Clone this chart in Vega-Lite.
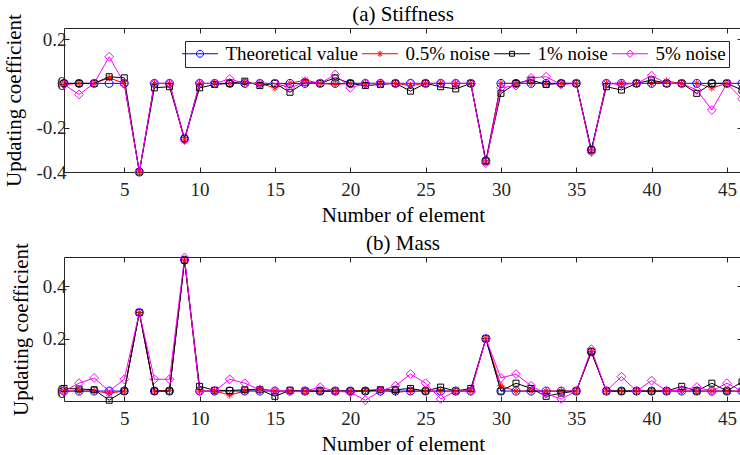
{
  "$schema": "https://vega.github.io/schema/vega-lite/v6.json",
  "padding": {"left": 3, "right": 1, "top": 3, "bottom": 2},
  "spacing": 6,
  "config": {
    "view": {"stroke": "#262626", "strokeWidth": 1},
    "font": "Liberation Serif",
    "axis": {"grid": false, "domain": false, "tickColor": "#262626", "tickSize": -5, "tickWidth": 1, "labelFont": "Liberation Serif", "labelFontSize": 19, "labelColor": "#262626", "titleFont": "Liberation Serif", "titleFontSize": 21, "titleFontWeight": "normal", "titleColor": "#000000"},
    "title": {"font": "Liberation Serif", "fontSize": 21, "fontWeight": "normal", "color": "#000000", "offset": -11, "anchor": "middle", "frame": "group"},
    "scale": {"zero": false}
  },
  "resolve": {"scale": {"color": "independent", "shape": "independent"}, "legend": {"color": "independent", "shape": "independent"}},
  "datasets": {
    "stiff": [
      {"e":1,"s":"Theoretical value","v":0},{"e":2,"s":"Theoretical value","v":0},{"e":3,"s":"Theoretical value","v":0},{"e":4,"s":"Theoretical value","v":0},{"e":5,"s":"Theoretical value","v":0},{"e":6,"s":"Theoretical value","v":-0.4},{"e":7,"s":"Theoretical value","v":0},{"e":8,"s":"Theoretical value","v":0},{"e":9,"s":"Theoretical value","v":-0.25},{"e":10,"s":"Theoretical value","v":0},
      {"e":11,"s":"Theoretical value","v":0},{"e":12,"s":"Theoretical value","v":0},{"e":13,"s":"Theoretical value","v":0},{"e":14,"s":"Theoretical value","v":0},{"e":15,"s":"Theoretical value","v":0},{"e":16,"s":"Theoretical value","v":0},{"e":17,"s":"Theoretical value","v":0},{"e":18,"s":"Theoretical value","v":0},{"e":19,"s":"Theoretical value","v":0},{"e":20,"s":"Theoretical value","v":0},
      {"e":21,"s":"Theoretical value","v":0},{"e":22,"s":"Theoretical value","v":0},{"e":23,"s":"Theoretical value","v":0},{"e":24,"s":"Theoretical value","v":0},{"e":25,"s":"Theoretical value","v":0},{"e":26,"s":"Theoretical value","v":0},{"e":27,"s":"Theoretical value","v":0},{"e":28,"s":"Theoretical value","v":0},{"e":29,"s":"Theoretical value","v":-0.35},{"e":30,"s":"Theoretical value","v":0},
      {"e":31,"s":"Theoretical value","v":0},{"e":32,"s":"Theoretical value","v":0},{"e":33,"s":"Theoretical value","v":0},{"e":34,"s":"Theoretical value","v":0},{"e":35,"s":"Theoretical value","v":0},{"e":36,"s":"Theoretical value","v":-0.3},{"e":37,"s":"Theoretical value","v":0},{"e":38,"s":"Theoretical value","v":0},{"e":39,"s":"Theoretical value","v":0},{"e":40,"s":"Theoretical value","v":0},
      {"e":41,"s":"Theoretical value","v":0},{"e":42,"s":"Theoretical value","v":0},{"e":43,"s":"Theoretical value","v":0},{"e":44,"s":"Theoretical value","v":0},{"e":45,"s":"Theoretical value","v":0},{"e":46,"s":"Theoretical value","v":0},
      {"e":1,"s":"0.5% noise","v":-0.005},{"e":2,"s":"0.5% noise","v":0},{"e":3,"s":"0.5% noise","v":0},{"e":4,"s":"0.5% noise","v":0.025},{"e":5,"s":"0.5% noise","v":0},{"e":6,"s":"0.5% noise","v":-0.4},{"e":7,"s":"0.5% noise","v":0},{"e":8,"s":"0.5% noise","v":0},{"e":9,"s":"0.5% noise","v":-0.26},{"e":10,"s":"0.5% noise","v":0},
      {"e":11,"s":"0.5% noise","v":0},{"e":12,"s":"0.5% noise","v":0},{"e":13,"s":"0.5% noise","v":0},{"e":14,"s":"0.5% noise","v":0},{"e":15,"s":"0.5% noise","v":-0.02},{"e":16,"s":"0.5% noise","v":0},{"e":17,"s":"0.5% noise","v":0.015},{"e":18,"s":"0.5% noise","v":0},{"e":19,"s":"0.5% noise","v":-0.005},{"e":20,"s":"0.5% noise","v":0},
      {"e":21,"s":"0.5% noise","v":0},{"e":22,"s":"0.5% noise","v":0},{"e":23,"s":"0.5% noise","v":0},{"e":24,"s":"0.5% noise","v":-0.01},{"e":25,"s":"0.5% noise","v":0},{"e":26,"s":"0.5% noise","v":0},{"e":27,"s":"0.5% noise","v":0},{"e":28,"s":"0.5% noise","v":0},{"e":29,"s":"0.5% noise","v":-0.355},{"e":30,"s":"0.5% noise","v":0},
      {"e":31,"s":"0.5% noise","v":0},{"e":32,"s":"0.5% noise","v":0},{"e":33,"s":"0.5% noise","v":0},{"e":34,"s":"0.5% noise","v":0},{"e":35,"s":"0.5% noise","v":0},{"e":36,"s":"0.5% noise","v":-0.31},{"e":37,"s":"0.5% noise","v":0},{"e":38,"s":"0.5% noise","v":0},{"e":39,"s":"0.5% noise","v":0},{"e":40,"s":"0.5% noise","v":0},
      {"e":41,"s":"0.5% noise","v":0.01},{"e":42,"s":"0.5% noise","v":0},{"e":43,"s":"0.5% noise","v":0},{"e":44,"s":"0.5% noise","v":-0.02},{"e":45,"s":"0.5% noise","v":0},{"e":46,"s":"0.5% noise","v":0},
      {"e":1,"s":"1% noise","v":0},{"e":2,"s":"1% noise","v":0},{"e":3,"s":"1% noise","v":0},{"e":4,"s":"1% noise","v":0.03},{"e":5,"s":"1% noise","v":0.025},{"e":6,"s":"1% noise","v":-0.4},{"e":7,"s":"1% noise","v":-0.02},{"e":8,"s":"1% noise","v":-0.015},{"e":9,"s":"1% noise","v":-0.25},{"e":10,"s":"1% noise","v":-0.02},
      {"e":11,"s":"1% noise","v":-0.005},{"e":12,"s":"1% noise","v":0},{"e":13,"s":"1% noise","v":0.01},{"e":14,"s":"1% noise","v":-0.01},{"e":15,"s":"1% noise","v":0},{"e":16,"s":"1% noise","v":-0.04},{"e":17,"s":"1% noise","v":0.005},{"e":18,"s":"1% noise","v":0},{"e":19,"s":"1% noise","v":0.025},{"e":20,"s":"1% noise","v":0},
      {"e":21,"s":"1% noise","v":-0.01},{"e":22,"s":"1% noise","v":-0.005},{"e":23,"s":"1% noise","v":0},{"e":24,"s":"1% noise","v":-0.035},{"e":25,"s":"1% noise","v":0},{"e":26,"s":"1% noise","v":-0.015},{"e":27,"s":"1% noise","v":-0.025},{"e":28,"s":"1% noise","v":0},{"e":29,"s":"1% noise","v":-0.35},{"e":30,"s":"1% noise","v":-0.045},
      {"e":31,"s":"1% noise","v":0},{"e":32,"s":"1% noise","v":0.015},{"e":33,"s":"1% noise","v":-0.005},{"e":34,"s":"1% noise","v":0},{"e":35,"s":"1% noise","v":0},{"e":36,"s":"1% noise","v":-0.3},{"e":37,"s":"1% noise","v":-0.015},{"e":38,"s":"1% noise","v":-0.03},{"e":39,"s":"1% noise","v":0},{"e":40,"s":"1% noise","v":0.015},
      {"e":41,"s":"1% noise","v":0},{"e":42,"s":"1% noise","v":0},{"e":43,"s":"1% noise","v":-0.045},{"e":44,"s":"1% noise","v":0},{"e":45,"s":"1% noise","v":0},{"e":46,"s":"1% noise","v":-0.03},
      {"e":1,"s":"5% noise","v":-0.005},{"e":2,"s":"5% noise","v":-0.05},{"e":3,"s":"5% noise","v":0},{"e":4,"s":"5% noise","v":0.12},{"e":5,"s":"5% noise","v":0},{"e":6,"s":"5% noise","v":-0.4},{"e":7,"s":"5% noise","v":0},{"e":8,"s":"5% noise","v":0},{"e":9,"s":"5% noise","v":-0.255},{"e":10,"s":"5% noise","v":0},
      {"e":11,"s":"5% noise","v":0},{"e":12,"s":"5% noise","v":0.02},{"e":13,"s":"5% noise","v":0},{"e":14,"s":"5% noise","v":0},{"e":15,"s":"5% noise","v":0},{"e":16,"s":"5% noise","v":-0.02},{"e":17,"s":"5% noise","v":0.005},{"e":18,"s":"5% noise","v":0},{"e":19,"s":"5% noise","v":0.04},{"e":20,"s":"5% noise","v":-0.02},
      {"e":21,"s":"5% noise","v":0},{"e":22,"s":"5% noise","v":0},{"e":23,"s":"5% noise","v":0},{"e":24,"s":"5% noise","v":0},{"e":25,"s":"5% noise","v":0},{"e":26,"s":"5% noise","v":0},{"e":27,"s":"5% noise","v":0},{"e":28,"s":"5% noise","v":0},{"e":29,"s":"5% noise","v":-0.36},{"e":30,"s":"5% noise","v":-0.02},
      {"e":31,"s":"5% noise","v":-0.01},{"e":32,"s":"5% noise","v":0.025},{"e":33,"s":"5% noise","v":0.03},{"e":34,"s":"5% noise","v":-0.005},{"e":35,"s":"5% noise","v":0},{"e":36,"s":"5% noise","v":-0.31},{"e":37,"s":"5% noise","v":0},{"e":38,"s":"5% noise","v":-0.005},{"e":39,"s":"5% noise","v":0},{"e":40,"s":"5% noise","v":0.035},
      {"e":41,"s":"5% noise","v":0},{"e":42,"s":"5% noise","v":0},{"e":43,"s":"5% noise","v":-0.03},{"e":44,"s":"5% noise","v":-0.12},{"e":45,"s":"5% noise","v":0},{"e":46,"s":"5% noise","v":-0.07}
    ],
    "mass": [
      {"e":1,"s":"Theoretical value","v":0},{"e":2,"s":"Theoretical value","v":0},{"e":3,"s":"Theoretical value","v":0},{"e":4,"s":"Theoretical value","v":0},{"e":5,"s":"Theoretical value","v":0},{"e":6,"s":"Theoretical value","v":0.3},{"e":7,"s":"Theoretical value","v":0},{"e":8,"s":"Theoretical value","v":0},{"e":9,"s":"Theoretical value","v":0.5},{"e":10,"s":"Theoretical value","v":0},
      {"e":11,"s":"Theoretical value","v":0},{"e":12,"s":"Theoretical value","v":0},{"e":13,"s":"Theoretical value","v":0},{"e":14,"s":"Theoretical value","v":0},{"e":15,"s":"Theoretical value","v":0},{"e":16,"s":"Theoretical value","v":0},{"e":17,"s":"Theoretical value","v":0},{"e":18,"s":"Theoretical value","v":0},{"e":19,"s":"Theoretical value","v":0},{"e":20,"s":"Theoretical value","v":0},
      {"e":21,"s":"Theoretical value","v":0},{"e":22,"s":"Theoretical value","v":0},{"e":23,"s":"Theoretical value","v":0},{"e":24,"s":"Theoretical value","v":0},{"e":25,"s":"Theoretical value","v":0},{"e":26,"s":"Theoretical value","v":0},{"e":27,"s":"Theoretical value","v":0},{"e":28,"s":"Theoretical value","v":0},{"e":29,"s":"Theoretical value","v":0.2},{"e":30,"s":"Theoretical value","v":0},
      {"e":31,"s":"Theoretical value","v":0},{"e":32,"s":"Theoretical value","v":0},{"e":33,"s":"Theoretical value","v":0},{"e":34,"s":"Theoretical value","v":0},{"e":35,"s":"Theoretical value","v":0},{"e":36,"s":"Theoretical value","v":0.15},{"e":37,"s":"Theoretical value","v":0},{"e":38,"s":"Theoretical value","v":0},{"e":39,"s":"Theoretical value","v":0},{"e":40,"s":"Theoretical value","v":0},
      {"e":41,"s":"Theoretical value","v":0},{"e":42,"s":"Theoretical value","v":0},{"e":43,"s":"Theoretical value","v":0},{"e":44,"s":"Theoretical value","v":0},{"e":45,"s":"Theoretical value","v":0},{"e":46,"s":"Theoretical value","v":0},
      {"e":1,"s":"0.5% noise","v":0},{"e":2,"s":"0.5% noise","v":0},{"e":3,"s":"0.5% noise","v":0},{"e":4,"s":"0.5% noise","v":-0.008},{"e":5,"s":"0.5% noise","v":0},{"e":6,"s":"0.5% noise","v":0.3},{"e":7,"s":"0.5% noise","v":0},{"e":8,"s":"0.5% noise","v":0.003},{"e":9,"s":"0.5% noise","v":0.5},{"e":10,"s":"0.5% noise","v":0},
      {"e":11,"s":"0.5% noise","v":0},{"e":12,"s":"0.5% noise","v":-0.015},{"e":13,"s":"0.5% noise","v":0},{"e":14,"s":"0.5% noise","v":0.01},{"e":15,"s":"0.5% noise","v":0},{"e":16,"s":"0.5% noise","v":0},{"e":17,"s":"0.5% noise","v":0},{"e":18,"s":"0.5% noise","v":0},{"e":19,"s":"0.5% noise","v":0},{"e":20,"s":"0.5% noise","v":0},
      {"e":21,"s":"0.5% noise","v":0.003},{"e":22,"s":"0.5% noise","v":0.005},{"e":23,"s":"0.5% noise","v":-0.005},{"e":24,"s":"0.5% noise","v":0},{"e":25,"s":"0.5% noise","v":0},{"e":26,"s":"0.5% noise","v":0},{"e":27,"s":"0.5% noise","v":0},{"e":28,"s":"0.5% noise","v":0},{"e":29,"s":"0.5% noise","v":0.2},{"e":30,"s":"0.5% noise","v":0.02},
      {"e":31,"s":"0.5% noise","v":0},{"e":32,"s":"0.5% noise","v":0},{"e":33,"s":"0.5% noise","v":0},{"e":34,"s":"0.5% noise","v":0},{"e":35,"s":"0.5% noise","v":0},{"e":36,"s":"0.5% noise","v":0.15},{"e":37,"s":"0.5% noise","v":0},{"e":38,"s":"0.5% noise","v":0},{"e":39,"s":"0.5% noise","v":0},{"e":40,"s":"0.5% noise","v":0},
      {"e":41,"s":"0.5% noise","v":0},{"e":42,"s":"0.5% noise","v":0},{"e":43,"s":"0.5% noise","v":0},{"e":44,"s":"0.5% noise","v":0},{"e":45,"s":"0.5% noise","v":0},{"e":46,"s":"0.5% noise","v":0},
      {"e":1,"s":"1% noise","v":0.01},{"e":2,"s":"1% noise","v":0.008},{"e":3,"s":"1% noise","v":0.005},{"e":4,"s":"1% noise","v":-0.035},{"e":5,"s":"1% noise","v":0},{"e":6,"s":"1% noise","v":0.3},{"e":7,"s":"1% noise","v":0},{"e":8,"s":"1% noise","v":0},{"e":9,"s":"1% noise","v":0.5},{"e":10,"s":"1% noise","v":0.018},
      {"e":11,"s":"1% noise","v":0.003},{"e":12,"s":"1% noise","v":0.002},{"e":13,"s":"1% noise","v":0.005},{"e":14,"s":"1% noise","v":0.005},{"e":15,"s":"1% noise","v":-0.02},{"e":16,"s":"1% noise","v":0.003},{"e":17,"s":"1% noise","v":0},{"e":18,"s":"1% noise","v":0},{"e":19,"s":"1% noise","v":0},{"e":20,"s":"1% noise","v":0},
      {"e":21,"s":"1% noise","v":0},{"e":22,"s":"1% noise","v":0.005},{"e":23,"s":"1% noise","v":0.005},{"e":24,"s":"1% noise","v":0.01},{"e":25,"s":"1% noise","v":0},{"e":26,"s":"1% noise","v":0.015},{"e":27,"s":"1% noise","v":0},{"e":28,"s":"1% noise","v":0.01},{"e":29,"s":"1% noise","v":0.2},{"e":30,"s":"1% noise","v":0},
      {"e":31,"s":"1% noise","v":0.03},{"e":32,"s":"1% noise","v":0.01},{"e":33,"s":"1% noise","v":-0.02},{"e":34,"s":"1% noise","v":-0.008},{"e":35,"s":"1% noise","v":0},{"e":36,"s":"1% noise","v":0.15},{"e":37,"s":"1% noise","v":0},{"e":38,"s":"1% noise","v":0},{"e":39,"s":"1% noise","v":0},{"e":40,"s":"1% noise","v":0},
      {"e":41,"s":"1% noise","v":0},{"e":42,"s":"1% noise","v":0.018},{"e":43,"s":"1% noise","v":0},{"e":44,"s":"1% noise","v":0.03},{"e":45,"s":"1% noise","v":0},{"e":46,"s":"1% noise","v":0.035},
      {"e":1,"s":"5% noise","v":0},{"e":2,"s":"5% noise","v":0.03},{"e":3,"s":"5% noise","v":0.05},{"e":4,"s":"5% noise","v":0},{"e":5,"s":"5% noise","v":0.045},{"e":6,"s":"5% noise","v":0.3},{"e":7,"s":"5% noise","v":0.045},{"e":8,"s":"5% noise","v":0.045},{"e":9,"s":"5% noise","v":0.51},{"e":10,"s":"5% noise","v":0},
      {"e":11,"s":"5% noise","v":0},{"e":12,"s":"5% noise","v":0.045},{"e":13,"s":"5% noise","v":0.03},{"e":14,"s":"5% noise","v":0.005},{"e":15,"s":"5% noise","v":0},{"e":16,"s":"5% noise","v":0},{"e":17,"s":"5% noise","v":0},{"e":18,"s":"5% noise","v":0.015},{"e":19,"s":"5% noise","v":0},{"e":20,"s":"5% noise","v":-0.005},
      {"e":21,"s":"5% noise","v":-0.035},{"e":22,"s":"5% noise","v":0},{"e":23,"s":"5% noise","v":0.02},{"e":24,"s":"5% noise","v":0.065},{"e":25,"s":"5% noise","v":0.03},{"e":26,"s":"5% noise","v":-0.03},{"e":27,"s":"5% noise","v":0},{"e":28,"s":"5% noise","v":0},{"e":29,"s":"5% noise","v":0.2},{"e":30,"s":"5% noise","v":0.05},
      {"e":31,"s":"5% noise","v":0.065},{"e":32,"s":"5% noise","v":0.02},{"e":33,"s":"5% noise","v":-0.01},{"e":34,"s":"5% noise","v":-0.03},{"e":35,"s":"5% noise","v":0},{"e":36,"s":"5% noise","v":0.16},{"e":37,"s":"5% noise","v":0},{"e":38,"s":"5% noise","v":0.055},{"e":39,"s":"5% noise","v":0},{"e":40,"s":"5% noise","v":0.04},
      {"e":41,"s":"5% noise","v":0},{"e":42,"s":"5% noise","v":0.005},{"e":43,"s":"5% noise","v":0.015},{"e":44,"s":"5% noise","v":0},{"e":45,"s":"5% noise","v":0.03},{"e":46,"s":"5% noise","v":0}
    ]
  },
  "vconcat": [
    {
      "width": 678, "height": 144,
      "title": "(a) Stiffness",
      "data": {"name": "stiff"},
      "resolve": {"axis": {"x": "independent", "y": "independent"}},
      "encoding": {
        "x": {"field": "e", "type": "quantitative", "scale": {"domain": [1, 46], "nice": false}, "axis": null},
        "y": {"field": "v", "type": "quantitative", "scale": {"domain": [-0.4, 0.25], "nice": false}, "axis": null},
        "color": {"field": "s", "type": "nominal", "scale": {"domain": ["Theoretical value", "0.5% noise", "1% noise", "5% noise"], "range": ["#0000ff", "#ff0000", "#000000", "#ff00ff"]}}
      },
      "layer": [
        {
          "mark": {"type": "line", "strokeWidth": 1},
          "encoding": {
            "x": {"field": "e", "type": "quantitative", "axis": {"orient": "bottom", "values": [5,10,15,20,25,30,35,40,45], "title": "Number of element", "labelPadding": 13, "titlePadding": 5}},
            "y": {"field": "v", "type": "quantitative", "axis": {"orient": "left", "values": [-0.4,-0.2,0,0.2], "labelExpr": "datum.value < 0 ? '-' + format(-datum.value, '~g') : format(datum.value, '~g')", "title": "Updating coefficient", "labelPadding": 3, "titlePadding": 11}}
          }
        },
        {
          "transform": [{"filter": {"field": "s", "equal": "Theoretical value"}}],
          "mark": {"type": "point", "shape": "M-1,0A1,1,0,1,0,1,0A1,1,0,1,0,-1,0Z", "filled": false, "size": 64, "strokeWidth": 1, "opacity": 1},
          "encoding": {
            "x": {"field": "e", "type": "quantitative", "axis": {"orient": "top", "labels": false, "title": null, "values": [5,10,15,20,25,30,35,40,45]}},
            "y": {"field": "v", "type": "quantitative", "axis": {"orient": "right", "labels": false, "title": null, "values": [-0.4,-0.2,0,0.2]}}
          }
        },
        {
          "transform": [{"filter": {"field": "s", "equal": "0.5% noise"}}],
          "mark": {"type": "point", "shape": "M0,-0.9L0,0.9M-0.9,0L0.9,0M-0.64,-0.64L0.64,0.64M-0.64,0.64L0.64,-0.64", "filled": false, "size": 64, "strokeWidth": 1, "opacity": 1}
        },
        {
          "transform": [{"filter": {"field": "s", "equal": "1% noise"}}],
          "mark": {"type": "point", "shape": "M-0.75,-0.75L0.75,-0.75L0.75,0.75L-0.75,0.75Z", "filled": false, "size": 64, "strokeWidth": 1, "opacity": 1}
        },
        {
          "transform": [{"filter": {"field": "s", "equal": "5% noise"}}],
          "mark": {"type": "point", "shape": "M0,-1.1L1.1,0L0,1.1L-1.1,0Z", "filled": false, "size": 64, "strokeWidth": 1, "opacity": 1}
        },
        {
          "mark": {"type": "point", "filled": false, "size": 49, "strokeWidth": 1, "opacity": 0},
          "encoding": {
            "color": {"field": "s", "type": "nominal", "scale": {"domain": ["Theoretical value", "0.5% noise", "1% noise", "5% noise"], "range": ["#0000ff", "#ff0000", "#000000", "#ff00ff"]},
                      "legend": {"orient": "none", "legendX": 121, "legendY": 13, "direction": "horizontal", "columns": 4, "title": null, "padding": 3, "strokeColor": "#262626", "fillColor": "#ffffff", "symbolOffset": 2.5, "labelOffset": 16, "columnPadding": 1, "symbolSize": 49, "symbolStrokeWidth": 1, "symbolOpacity": 1, "symbolFillColor": "transparent", "labelFont": "Liberation Serif", "labelFontSize": 19, "labelColor": "#000000", "labelLimit": 400}},
            "shape": {"field": "s", "type": "nominal",
                      "scale": {"domain": ["Theoretical value", "0.5% noise", "1% noise", "5% noise"], "range": ["M-5.15,0L5.15,0M-1,0A1,1,0,1,0,1,0A1,1,0,1,0,-1,0Z", "M-5.15,0L5.15,0M0,-0.9L0,0.9M-0.64,-0.64L0.64,0.64M-0.64,0.64L0.64,-0.64", "M-5.15,0L5.15,0M-0.7,-0.7L0.7,-0.7L0.7,0.7L-0.7,0.7Z", "M-5.15,0L5.15,0M0,-1.05L1.05,0L0,1.05L-1.05,0Z"]},
                      "legend": {"orient": "none", "legendX": 121, "legendY": 13, "direction": "horizontal", "columns": 4, "title": null, "padding": 3, "strokeColor": "#262626", "fillColor": "#ffffff", "symbolOffset": 2.5, "labelOffset": 16, "columnPadding": 1, "symbolSize": 49, "symbolStrokeWidth": 1, "symbolOpacity": 1, "symbolFillColor": "transparent", "labelFont": "Liberation Serif", "labelFontSize": 19, "labelColor": "#000000", "labelLimit": 400}}
          }
        }
      ]
    },
    {
      "width": 678, "height": 144,
      "title": "(b) Mass",
      "data": {"name": "mass"},
      "resolve": {"axis": {"x": "independent", "y": "independent"}},
      "encoding": {
        "x": {"field": "e", "type": "quantitative", "scale": {"domain": [1, 46], "nice": false}, "axis": null},
        "y": {"field": "v", "type": "quantitative", "scale": {"domain": [-0.038, 0.512], "nice": false}, "axis": null},
        "color": {"field": "s", "type": "nominal", "legend": null, "scale": {"domain": ["Theoretical value", "0.5% noise", "1% noise", "5% noise"], "range": ["#0000ff", "#ff0000", "#000000", "#ff00ff"]}}
      },
      "layer": [
        {
          "mark": {"type": "line", "strokeWidth": 1},
          "encoding": {
            "x": {"field": "e", "type": "quantitative", "axis": {"orient": "bottom", "values": [5,10,15,20,25,30,35,40,45], "title": "Number of element", "labelPadding": 13, "titlePadding": 5}},
            "y": {"field": "v", "type": "quantitative", "axis": {"orient": "left", "values": [0, 0.2, 0.4], "labelExpr": "datum.value < 0 ? '-' + format(-datum.value, '~g') : format(datum.value, '~g')", "title": "Updating coefficient", "labelPadding": 3, "titlePadding": 11}}
          }
        },
        {
          "transform": [{"filter": {"field": "s", "equal": "Theoretical value"}}],
          "mark": {"type": "point", "shape": "M-1,0A1,1,0,1,0,1,0A1,1,0,1,0,-1,0Z", "filled": false, "size": 64, "strokeWidth": 1, "opacity": 1},
          "encoding": {
            "x": {"field": "e", "type": "quantitative", "axis": {"orient": "top", "labels": false, "title": null, "values": [5,10,15,20,25,30,35,40,45]}},
            "y": {"field": "v", "type": "quantitative", "axis": {"orient": "right", "labels": false, "title": null, "values": [0, 0.2, 0.4]}}
          }
        },
        {
          "transform": [{"filter": {"field": "s", "equal": "0.5% noise"}}],
          "mark": {"type": "point", "shape": "M0,-0.9L0,0.9M-0.9,0L0.9,0M-0.64,-0.64L0.64,0.64M-0.64,0.64L0.64,-0.64", "filled": false, "size": 64, "strokeWidth": 1, "opacity": 1}
        },
        {
          "transform": [{"filter": {"field": "s", "equal": "1% noise"}}],
          "mark": {"type": "point", "shape": "M-0.75,-0.75L0.75,-0.75L0.75,0.75L-0.75,0.75Z", "filled": false, "size": 64, "strokeWidth": 1, "opacity": 1}
        },
        {
          "transform": [{"filter": {"field": "s", "equal": "5% noise"}}],
          "mark": {"type": "point", "shape": "M0,-1.1L1.1,0L0,1.1L-1.1,0Z", "filled": false, "size": 64, "strokeWidth": 1, "opacity": 1}
        }
      ]
    }
  ]
}
